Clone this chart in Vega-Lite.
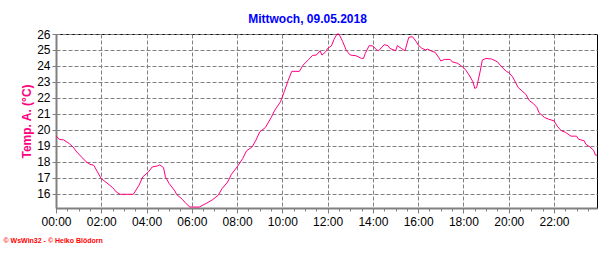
{
  "$schema": "https://vega.github.io/schema/vega-lite/v6.json",
  "autosize": "none",
  "width": 541,
  "height": 174,
  "padding": {"left": 56, "top": 34, "right": 19, "bottom": 45},
  "background": "white",
  "title": {"text": "Mittwoch, 09.05.2018", "color": "#0000ff", "font": "Liberation Sans", "fontSize": 12, "fontWeight": "bold", "anchor": "middle", "dx": -19, "offset": 2},
  "config": {
    "view": {"stroke": "black", "strokeWidth": 1},
    "font": "Liberation Sans"
  },
  "data": {"values": [
    {"time": "2018-05-09T00:00:00", "temp": 19.60},
    {"time": "2018-05-09T00:10:00", "temp": 19.39},
    {"time": "2018-05-09T00:20:00", "temp": 19.37},
    {"time": "2018-05-09T00:35:00", "temp": 19.14},
    {"time": "2018-05-09T00:45:00", "temp": 18.93},
    {"time": "2018-05-09T00:55:00", "temp": 18.61},
    {"time": "2018-05-09T01:10:00", "temp": 18.24},
    {"time": "2018-05-09T01:20:00", "temp": 17.99},
    {"time": "2018-05-09T01:30:00", "temp": 17.84},
    {"time": "2018-05-09T01:40:00", "temp": 17.78},
    {"time": "2018-05-09T01:50:00", "temp": 17.36},
    {"time": "2018-05-09T02:00:00", "temp": 16.94},
    {"time": "2018-05-09T02:15:00", "temp": 16.67},
    {"time": "2018-05-09T02:30:00", "temp": 16.38},
    {"time": "2018-05-09T02:40:00", "temp": 16.10},
    {"time": "2018-05-09T02:50:00", "temp": 15.96},
    {"time": "2018-05-09T03:05:00", "temp": 15.96},
    {"time": "2018-05-09T03:25:00", "temp": 15.96},
    {"time": "2018-05-09T03:40:00", "temp": 16.52},
    {"time": "2018-05-09T03:50:00", "temp": 17.05},
    {"time": "2018-05-09T04:05:00", "temp": 17.36},
    {"time": "2018-05-09T04:15:00", "temp": 17.67},
    {"time": "2018-05-09T04:30:00", "temp": 17.74},
    {"time": "2018-05-09T04:35:00", "temp": 17.80},
    {"time": "2018-05-09T04:45:00", "temp": 17.63},
    {"time": "2018-05-09T04:50:00", "temp": 17.05},
    {"time": "2018-05-09T05:00:00", "temp": 16.63},
    {"time": "2018-05-09T05:15:00", "temp": 16.17},
    {"time": "2018-05-09T05:20:00", "temp": 15.94},
    {"time": "2018-05-09T05:35:00", "temp": 15.64},
    {"time": "2018-05-09T05:45:00", "temp": 15.37},
    {"time": "2018-05-09T05:55:00", "temp": 15.16},
    {"time": "2018-05-09T06:20:00", "temp": 15.16},
    {"time": "2018-05-09T06:30:00", "temp": 15.29},
    {"time": "2018-05-09T06:40:00", "temp": 15.41},
    {"time": "2018-05-09T06:55:00", "temp": 15.62},
    {"time": "2018-05-09T07:10:00", "temp": 15.90},
    {"time": "2018-05-09T07:20:00", "temp": 16.31},
    {"time": "2018-05-09T07:35:00", "temp": 16.73},
    {"time": "2018-05-09T07:45:00", "temp": 17.21},
    {"time": "2018-05-09T08:00:00", "temp": 17.67},
    {"time": "2018-05-09T08:15:00", "temp": 18.20},
    {"time": "2018-05-09T08:25:00", "temp": 18.68},
    {"time": "2018-05-09T08:40:00", "temp": 18.93},
    {"time": "2018-05-09T08:50:00", "temp": 19.35},
    {"time": "2018-05-09T09:00:00", "temp": 19.87},
    {"time": "2018-05-09T09:15:00", "temp": 20.14},
    {"time": "2018-05-09T09:30:00", "temp": 20.75},
    {"time": "2018-05-09T09:40:00", "temp": 21.23},
    {"time": "2018-05-09T09:55:00", "temp": 21.75},
    {"time": "2018-05-09T10:05:00", "temp": 22.38},
    {"time": "2018-05-09T10:15:00", "temp": 23.07},
    {"time": "2018-05-09T10:25:00", "temp": 23.66},
    {"time": "2018-05-09T10:45:00", "temp": 23.66},
    {"time": "2018-05-09T10:55:00", "temp": 24.05},
    {"time": "2018-05-09T11:10:00", "temp": 24.41},
    {"time": "2018-05-09T11:20:00", "temp": 24.66},
    {"time": "2018-05-09T11:30:00", "temp": 24.68},
    {"time": "2018-05-09T11:40:00", "temp": 24.95},
    {"time": "2018-05-09T11:45:00", "temp": 24.68},
    {"time": "2018-05-09T11:55:00", "temp": 24.89},
    {"time": "2018-05-09T12:00:00", "temp": 25.10},
    {"time": "2018-05-09T12:10:00", "temp": 25.25},
    {"time": "2018-05-09T12:17:00", "temp": 25.67},
    {"time": "2018-05-09T12:25:00", "temp": 26.00},
    {"time": "2018-05-09T12:30:00", "temp": 26.00},
    {"time": "2018-05-09T12:40:00", "temp": 25.52},
    {"time": "2018-05-09T12:50:00", "temp": 24.95},
    {"time": "2018-05-09T13:00:00", "temp": 24.68},
    {"time": "2018-05-09T13:15:00", "temp": 24.64},
    {"time": "2018-05-09T13:30:00", "temp": 24.47},
    {"time": "2018-05-09T13:35:00", "temp": 24.47},
    {"time": "2018-05-09T13:40:00", "temp": 24.79},
    {"time": "2018-05-09T13:50:00", "temp": 25.27},
    {"time": "2018-05-09T14:00:00", "temp": 25.25},
    {"time": "2018-05-09T14:10:00", "temp": 25.00},
    {"time": "2018-05-09T14:15:00", "temp": 24.95},
    {"time": "2018-05-09T14:30:00", "temp": 25.33},
    {"time": "2018-05-09T14:40:00", "temp": 25.27},
    {"time": "2018-05-09T14:45:00", "temp": 25.10},
    {"time": "2018-05-09T15:00:00", "temp": 24.95},
    {"time": "2018-05-09T15:05:00", "temp": 25.27},
    {"time": "2018-05-09T15:15:00", "temp": 25.10},
    {"time": "2018-05-09T15:25:00", "temp": 24.95},
    {"time": "2018-05-09T15:35:00", "temp": 25.79},
    {"time": "2018-05-09T15:45:00", "temp": 25.83},
    {"time": "2018-05-09T15:55:00", "temp": 25.52},
    {"time": "2018-05-09T16:00:00", "temp": 25.31},
    {"time": "2018-05-09T16:10:00", "temp": 25.10},
    {"time": "2018-05-09T16:20:00", "temp": 25.00},
    {"time": "2018-05-09T16:25:00", "temp": 25.06},
    {"time": "2018-05-09T16:35:00", "temp": 24.93},
    {"time": "2018-05-09T16:45:00", "temp": 24.85},
    {"time": "2018-05-09T16:55:00", "temp": 24.51},
    {"time": "2018-05-09T17:00:00", "temp": 24.31},
    {"time": "2018-05-09T17:10:00", "temp": 24.41},
    {"time": "2018-05-09T17:25:00", "temp": 24.41},
    {"time": "2018-05-09T17:30:00", "temp": 24.26},
    {"time": "2018-05-09T17:45:00", "temp": 24.16},
    {"time": "2018-05-09T17:55:00", "temp": 23.99},
    {"time": "2018-05-09T18:05:00", "temp": 23.78},
    {"time": "2018-05-09T18:15:00", "temp": 23.43},
    {"time": "2018-05-09T18:25:00", "temp": 23.01},
    {"time": "2018-05-09T18:30:00", "temp": 22.59},
    {"time": "2018-05-09T18:35:00", "temp": 22.65},
    {"time": "2018-05-09T18:45:00", "temp": 23.74},
    {"time": "2018-05-09T18:50:00", "temp": 24.37},
    {"time": "2018-05-09T19:00:00", "temp": 24.47},
    {"time": "2018-05-09T19:15:00", "temp": 24.43},
    {"time": "2018-05-09T19:30:00", "temp": 24.26},
    {"time": "2018-05-09T19:35:00", "temp": 24.12},
    {"time": "2018-05-09T19:45:00", "temp": 23.85},
    {"time": "2018-05-09T19:55:00", "temp": 23.64},
    {"time": "2018-05-09T20:00:00", "temp": 23.59},
    {"time": "2018-05-09T20:10:00", "temp": 23.32},
    {"time": "2018-05-09T20:15:00", "temp": 23.11},
    {"time": "2018-05-09T20:25:00", "temp": 22.65},
    {"time": "2018-05-09T20:35:00", "temp": 22.44},
    {"time": "2018-05-09T20:45:00", "temp": 22.23},
    {"time": "2018-05-09T20:55:00", "temp": 21.82},
    {"time": "2018-05-09T21:05:00", "temp": 21.65},
    {"time": "2018-05-09T21:15:00", "temp": 21.40},
    {"time": "2018-05-09T21:20:00", "temp": 21.08},
    {"time": "2018-05-09T21:35:00", "temp": 20.77},
    {"time": "2018-05-09T21:45:00", "temp": 20.67},
    {"time": "2018-05-09T22:00:00", "temp": 20.56},
    {"time": "2018-05-09T22:10:00", "temp": 20.18},
    {"time": "2018-05-09T22:20:00", "temp": 19.93},
    {"time": "2018-05-09T22:30:00", "temp": 19.85},
    {"time": "2018-05-09T22:45:00", "temp": 19.60},
    {"time": "2018-05-09T23:00:00", "temp": 19.60},
    {"time": "2018-05-09T23:05:00", "temp": 19.41},
    {"time": "2018-05-09T23:20:00", "temp": 19.31},
    {"time": "2018-05-09T23:25:00", "temp": 19.08},
    {"time": "2018-05-09T23:35:00", "temp": 18.93},
    {"time": "2018-05-09T23:45:00", "temp": 18.72},
    {"time": "2018-05-09T23:50:00", "temp": 18.41},
    {"time": "2018-05-09T23:54:00", "temp": 18.41}
  ]},
  "mark": {"type": "line", "color": "#ff0080", "strokeWidth": 1},
  "encoding": {
    "x": {
      "field": "time", "type": "temporal",
      "scale": {"nice": false},
      "axis": {
        "tickCount": 48,
        "labelExpr": "hours(datum.value) % 2 == 0 && minutes(datum.value) == 0 ? timeFormat(datum.value, '%H:%M') : ''",
        "labelOverlap": false, "labelFlush": false,
        "labelFont": "Liberation Sans", "labelFontSize": 12, "labelColor": "black", "labelPadding": 3,
        "domainColor": "#808080", "domainWidth": 2,
        "tickColor": "#808080", "tickWidth": 1,
        "tickSize": {"condition": {"test": "hours(datum.value) % 2 == 0 && minutes(datum.value) == 0", "value": 5}, "value": 3},
        "grid": true, "gridColor": "#808080", "gridWidth": 1, "gridDash": [4, 2],
        "gridOpacity": {"condition": {"test": "hours(datum.value) % 2 == 0 && minutes(datum.value) == 0", "value": 1}, "value": 0},
        "title": "© WsWin32 - © Heiko Blödorn",
        "titleColor": "#ff0000", "titleFontSize": 7, "titleFontWeight": "bold",
        "titleAnchor": "start", "titleAlign": "left", "titleBaseline": "middle", "titleX": -53, "titleY": 32
      }
    },
    "y": {
      "field": "temp", "type": "quantitative",
      "scale": {"domain": [15.1, 26], "nice": false, "zero": false},
      "axis": {
        "values": [16, 17, 18, 19, 20, 21, 22, 23, 24, 25, 26],
        "labelFont": "Liberation Sans", "labelFontSize": 12, "labelColor": "black", "labelPadding": 2,
        "domainColor": "#808080", "domainWidth": 2,
        "tickColor": "#808080", "tickSize": 4,
        "grid": true, "gridColor": "#808080", "gridWidth": 1, "gridDash": [4, 2],
        "title": "Temp. A. (°C)", "titleColor": "#ff0080", "titleFontSize": 12, "titleFontWeight": "bold", "titlePadding": 3
      }
    }
  }
}
